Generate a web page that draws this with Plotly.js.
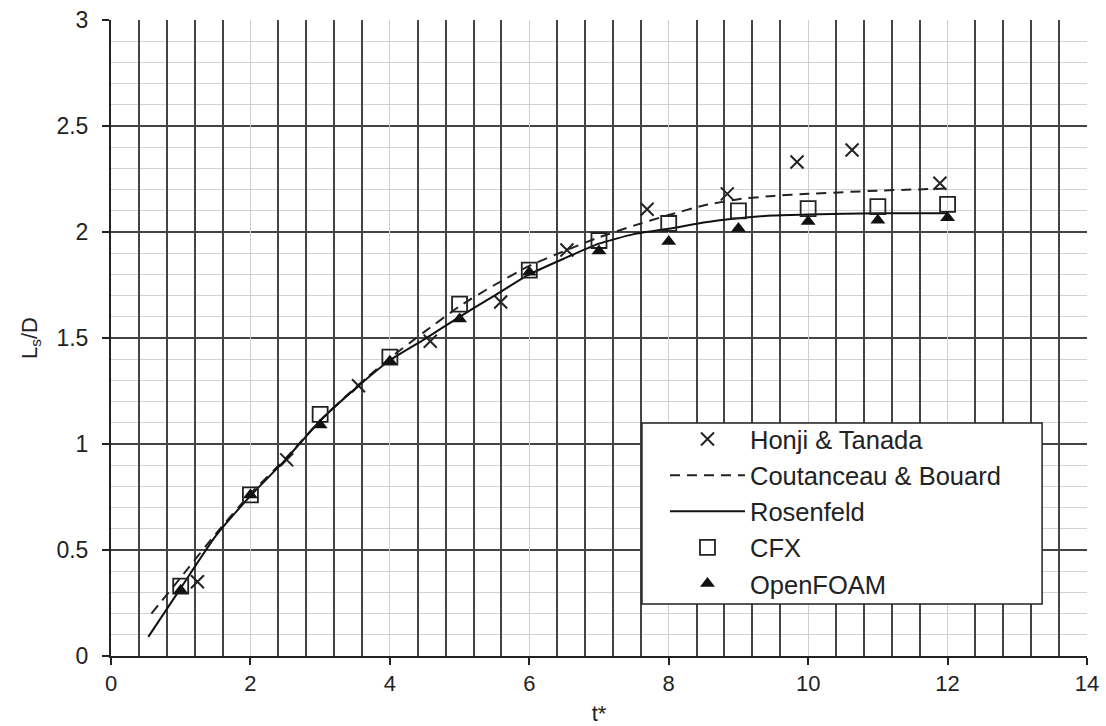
<!DOCTYPE html>
<html>
<head>
<meta charset="utf-8">
<script src="https://cdn.plot.ly/plotly-3.0.1.min.js"></script>
<style>html,body{margin:0;padding:0;background:#fff;}#chart{width:1106px;height:726px;}</style>
</head>
<body>
<div id="chart"></div>
<script>
// Honji & Tanada (experimental, crosses)
var honjiT = [1.24, 2.52, 3.55, 4.58, 5.59, 6.54, 7.69, 8.84, 9.84, 10.63, 11.89];
var honjiL = [0.35, 0.925, 1.275, 1.485, 1.67, 1.915, 2.107, 2.18, 2.33, 2.387, 2.23];

// Coutanceau & Bouard (dashed curve)
var coutT = [0.58, 1.0, 1.5, 2.0, 2.5, 3.0, 3.5, 4.0, 4.5, 5.0, 5.5, 6.0, 6.5, 7.0, 7.5, 8.0, 8.5, 9.0, 9.5, 10.0, 11.0, 12.0];
var coutL = [0.20, 0.37, 0.575, 0.765, 0.93, 1.11, 1.265, 1.405, 1.53, 1.65, 1.75, 1.84, 1.91, 1.975, 2.03, 2.08, 2.125, 2.155, 2.17, 2.18, 2.195, 2.205];

// Rosenfeld (solid curve)
var rosT = [0.535, 1.0, 1.5, 2.0, 2.5, 3.0, 3.5, 4.0, 4.5, 5.0, 5.5, 6.0, 6.5, 7.0, 7.5, 8.0, 8.5, 9.0, 9.5, 10.0, 11.0, 12.0];
var rosL = [0.09, 0.32, 0.565, 0.755, 0.925, 1.11, 1.26, 1.395, 1.495, 1.60, 1.70, 1.80, 1.875, 1.945, 1.99, 2.015, 2.045, 2.065, 2.078, 2.083, 2.088, 2.088];

// CFX (open squares)
var cfxT = [1, 2, 3, 4, 5, 6, 7, 8, 9, 10, 11, 12];
var cfxL = [0.33, 0.76, 1.14, 1.41, 1.66, 1.82, 1.96, 2.04, 2.10, 2.11, 2.12, 2.13];

// OpenFOAM (filled triangles)
var ofT = [1, 2, 3, 4, 5, 6, 7, 8, 9, 10, 11, 12];
var ofL = [0.31, 0.76, 1.09, 1.39, 1.59, 1.81, 1.91, 1.955, 2.017, 2.049, 2.056, 2.067];

// Axis ticks
var xTickVals = [0, 2, 4, 6, 8, 10, 12, 14];
var xTickText = ['0', '2', '4', '6', '8', '10', '12', '14'];
var xFineGrid = [0.4, 0.8, 1.2, 1.6, 2.4, 2.8, 3.2, 3.6, 4.4, 4.8, 5.2, 5.6, 6.4, 6.8, 7.2, 7.6,
                 8.4, 8.8, 9.2, 9.6, 10.4, 10.8, 11.2, 11.6, 12.4, 12.8, 13.2, 13.6];
var yTickVals = [0, 0.5, 1, 1.5, 2, 2.5, 3];
var yTickText = ['0', '0.5', '1', '1.5', '2', '2.5', '3'];

var FONT = 'Liberation Sans, Arial, sans-serif';

var traces = [
  {x: honjiT, y: honjiL, name: 'Honji &amp; Tanada', mode: 'markers', type: 'scatter',
   marker: {symbol: 'x-thin-open', size: 13, color: '#222', line: {width: 2, color: '#222'}}},
  {x: coutT, y: coutL, name: 'Coutanceau &amp; Bouard', mode: 'lines', type: 'scatter',
   line: {color: '#222', width: 2, dash: '10px,7px', shape: 'spline', smoothing: 0.5}},
  {x: rosT, y: rosL, name: 'Rosenfeld', mode: 'lines', type: 'scatter',
   line: {color: '#111', width: 2, shape: 'spline', smoothing: 0.5}},
  {x: cfxT, y: cfxL, name: 'CFX', mode: 'markers', type: 'scatter',
   marker: {symbol: 'square-open', size: 15, color: '#222', line: {width: 1.8, color: '#222'}}},
  {x: ofT, y: ofL, name: 'OpenFOAM', mode: 'markers', type: 'scatter',
   marker: {symbol: 'triangle-up', size: 13, color: '#111', line: {width: 0}}}
];

var layout = {
  width: 1106, height: 726,
  margin: {l: 111, r: 19, t: 20, b: 70},
  paper_bgcolor: '#fff', plot_bgcolor: '#fff',
  font: {family: FONT, size: 22, color: '#222'},
  showlegend: true,
  hovermode: false,
  legend: {
    x: 0.5676, y: 0.3775, xanchor: 'left', yanchor: 'top',
    bgcolor: 'rgba(0,0,0,0)', bordercolor: 'rgba(0,0,0,0)', borderwidth: 0,
    font: {family: FONT, size: 25.5, color: '#222'},
    itemwidth: 75, tracegroupgap: 0
  },
  shapes: [{
    type: 'rect', xref: 'paper', yref: 'paper',
    x0: 0.544, x1: 0.954, y0: 0.0818, y1: 0.3664,
    line: {color: '#222', width: 1.5}, fillcolor: '#fff', layer: 'above'
  }],
  xaxis: {
    range: [0, 14], tickmode: 'array', tickvals: xFineGrid, showticklabels: false,
    ticks: '', showline: true, linecolor: '#222', linewidth: 2,
    showgrid: true, gridcolor: '#444', gridwidth: 2, zeroline: false, fixedrange: true
  },
  xaxis2: {
    overlaying: 'x', anchor: 'y', side: 'bottom',
    range: [0, 14], tickmode: 'array', tickvals: xTickVals, ticktext: xTickText,
    ticks: 'outside', ticklen: 7, tickwidth: 2, tickcolor: '#222',
    tickfont: {family: FONT, size: 22, color: '#222'},
    showline: true, linecolor: '#222', linewidth: 2,
    showgrid: true, gridcolor: '#cfcfcf', gridwidth: 1, zeroline: false, fixedrange: true,
    title: {text: 't*', font: {family: FONT, size: 22, color: '#222'}, standoff: 10}
  },
  yaxis: {
    range: [0, 3], tickmode: 'array', tickvals: yTickVals, ticktext: yTickText,
    ticks: 'outside', ticklen: 7, tickwidth: 2, tickcolor: '#222',
    ticklabelstandoff: 9,
    tickfont: {family: FONT, size: 23, color: '#222'},
    showline: true, linecolor: '#222', linewidth: 2,
    showgrid: true, gridcolor: '#444', gridwidth: 2,
    zeroline: false, fixedrange: true,
    minor: {tickmode: 'linear', tick0: 0, dtick: 0.1, showgrid: true, gridcolor: '#d2d2d2', gridwidth: 1, ticks: ''},
    title: {text: 'L<sub>s</sub>/D', font: {family: FONT, size: 22, color: '#222'}, standoff: 13}
  }
};

// invisible helper trace so the labelled bottom axis (x2) is drawn
traces.push({x: [0], y: [0], xaxis: 'x2', yaxis: 'y', mode: 'markers', showlegend: false,
  marker: {opacity: 0}, hoverinfo: 'skip'});

Plotly.newPlot('chart', traces, layout, {displayModeBar: false});
</script>
</body>
</html>
